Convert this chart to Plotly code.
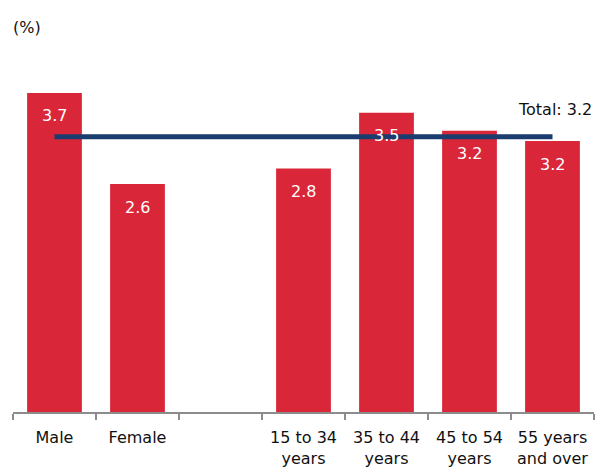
import plotly.graph_objects as go

categories = ["Male", "Female", " ", "15 to 34<br>years", "35 to 44<br>years",
              "45 to 54<br>years", "55 years<br>and over"]
values = [3.71, 2.65, None, 2.83, 3.48, 3.27, 3.15]
labels = ["3.7", "2.6", "", "2.8", "3.5", "3.2", "3.2"]
total_value = 3.2
total_label = "Total: 3.2"

FONT = "DejaVu Sans"
BAR = "#da2639"
LINE = "#1b3c6e"

fig = go.Figure()
fig.add_trace(go.Bar(x=categories, y=values, marker=dict(color=BAR, line=dict(width=0)),
                     hoverinfo="skip"))
fig.add_trace(go.Scatter(x=[categories[0], categories[-1]], y=[total_value, total_value],
                         mode="lines", line=dict(color=LINE, width=5), hoverinfo="skip"))

for c, v, t in zip(categories, values, labels):
    if v is None:
        continue
    fig.add_annotation(x=c, y=v, text=t, showarrow=False, yshift=-23,
                       font=dict(family=FONT, size=16, color="white"))

fig.add_annotation(x=1, xref="paper", xanchor="right", y=total_value, yref="y",
                   yshift=27, text=total_label, showarrow=False,
                   font=dict(family=FONT, size=16, color="#111111"))
fig.add_annotation(x=-0.0035, xref="paper", xanchor="left", y=(469 - 27 - 57) / 344,
                   yref="paper", yanchor="middle", text="(%)", showarrow=False,
                   font=dict(family=FONT, size=16, color="#111111"))

fig.update_layout(
    width=595, height=469,
    margin=dict(l=13, r=1, t=68, b=57),
    paper_bgcolor="white", plot_bgcolor="white",
    showlegend=False, bargap=0.34,
    font=dict(family=FONT, size=16, color="#111111"),
    xaxis=dict(type="category", tickson="boundaries", ticks="outside", ticklen=6,
               tickcolor="#8c8c8c", tickwidth=2, showline=True, linecolor="#8c8c8c",
               linewidth=2, showgrid=False, ticklabelstandoff=10,
               tickfont=dict(family=FONT, size=16, color="#111111"),
               fixedrange=True),
    yaxis=dict(range=[0, 4.0], visible=False, showgrid=False, zeroline=False, fixedrange=True),
)

fig.write_html("out.html")
